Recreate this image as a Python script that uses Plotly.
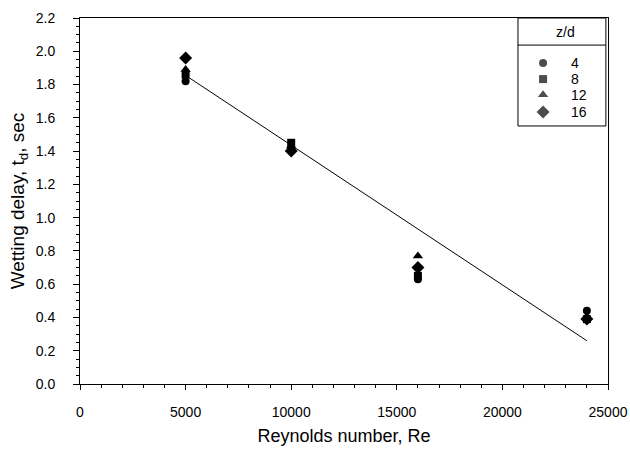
import plotly.graph_objects as go

re_vals = [5000, 10000, 16000, 24000]
zd_labels = ["4", "8", "12", "16"]
delay_zd4 = [1.82, 1.42, 0.63, 0.44]
delay_zd8 = [1.86, 1.45, 0.65, 0.39]
delay_zd12 = [1.89, 1.43, 0.77, 0.40]
delay_zd16 = [1.96, 1.40, 0.70, 0.39]
fit_re = [5000, 24000]
fit_delay = [1.855, 0.26]

series = [delay_zd4, delay_zd8, delay_zd12, delay_zd16]
symbols = ["circle", "square", "triangle-up", "diamond"]
sizes = [8, 8, 9, 10]

fig = go.Figure()
fig.add_trace(go.Scatter(x=fit_re, y=fit_delay, mode="lines",
                         line=dict(color="black", width=1), showlegend=False))
for ys, sym, sz in zip(series, symbols, sizes):
    fig.add_trace(go.Scatter(x=re_vals, y=ys, mode="markers",
                             marker=dict(symbol=sym, size=sz, color="black", line=dict(width=0)),
                             showlegend=False))

# manual legend (box with header line)
leg_x0, leg_x1, leg_y0, leg_y1 = 0.8295, 0.996, 0.705, 1.0
sep_y = 0.926
row_y = [0.877, 0.833, 0.790, 0.743]
fig.add_trace(go.Scatter(x=[0.877] * 4, y=row_y, mode="markers", xaxis="x2", yaxis="y2",
                         marker=dict(symbol=symbols, size=sizes, color="black", line=dict(width=0)),
                         showlegend=False, hoverinfo="skip"))
fig.add_shape(type="rect", xref="paper", yref="paper", x0=leg_x0, x1=leg_x1, y0=leg_y0, y1=leg_y1,
              line=dict(color="black", width=1), fillcolor="white", layer="below")
fig.add_shape(type="line", xref="paper", yref="paper", x0=leg_x0, x1=leg_x1, y0=sep_y, y1=sep_y,
              line=dict(color="black", width=1))
fig.add_annotation(x=0.9186, y=0.962, xref="paper", yref="paper", text="z/d", showarrow=False,
                   xanchor="center", yanchor="middle", font=dict(size=14, color="black"))
for lab, yy in zip(zd_labels, row_y):
    fig.add_annotation(x=0.926, y=yy, xref="paper", yref="paper", text=lab, showarrow=False,
                       xanchor="left", yanchor="middle", font=dict(size=14, color="black"))

fig.update_layout(
    width=630, height=451,
    margin=dict(l=80, r=22, t=18, b=67),
    paper_bgcolor="white", plot_bgcolor="white",
    font=dict(family="Liberation Sans, Arial, sans-serif", size=14, color="black"),
    xaxis=dict(range=[0, 25000], tickvals=[0, 5000, 10000, 15000, 20000, 25000], tickformat="d",
               ticks="outside", ticklen=5, tickcolor="black", showline=True, linecolor="black",
               linewidth=1, mirror=True, showgrid=False, zeroline=False, automargin=False,
               ticklabelstandoff=10,
               minor=dict(dtick=1000, ticks="outside", ticklen=3, tickcolor="black"),
               title=dict(text="Reynolds number, Re", font=dict(size=18), standoff=10),
               tickfont=dict(size=14, color="black")),
    yaxis=dict(range=[0, 2.2], dtick=0.2, tickformat=".1f",
               ticks="outside", ticklen=6, tickcolor="black", showline=True, linecolor="black",
               linewidth=1, mirror=True, showgrid=False, zeroline=False, automargin=False,
               ticklabelstandoff=15,
               minor=dict(dtick=0.05, ticks="outside", ticklen=3, tickcolor="black"),
               title=dict(text="Wetting delay, t<sub>d</sub>, sec", font=dict(size=19), standoff=6),
               tickfont=dict(size=14, color="black")),
    xaxis2=dict(domain=[0, 1], range=[0, 1], anchor="y2", visible=False, overlaying="x"),
    yaxis2=dict(domain=[0, 1], range=[0, 1], anchor="x2", visible=False, overlaying="y"),
)

fig.write_html("out.html")
